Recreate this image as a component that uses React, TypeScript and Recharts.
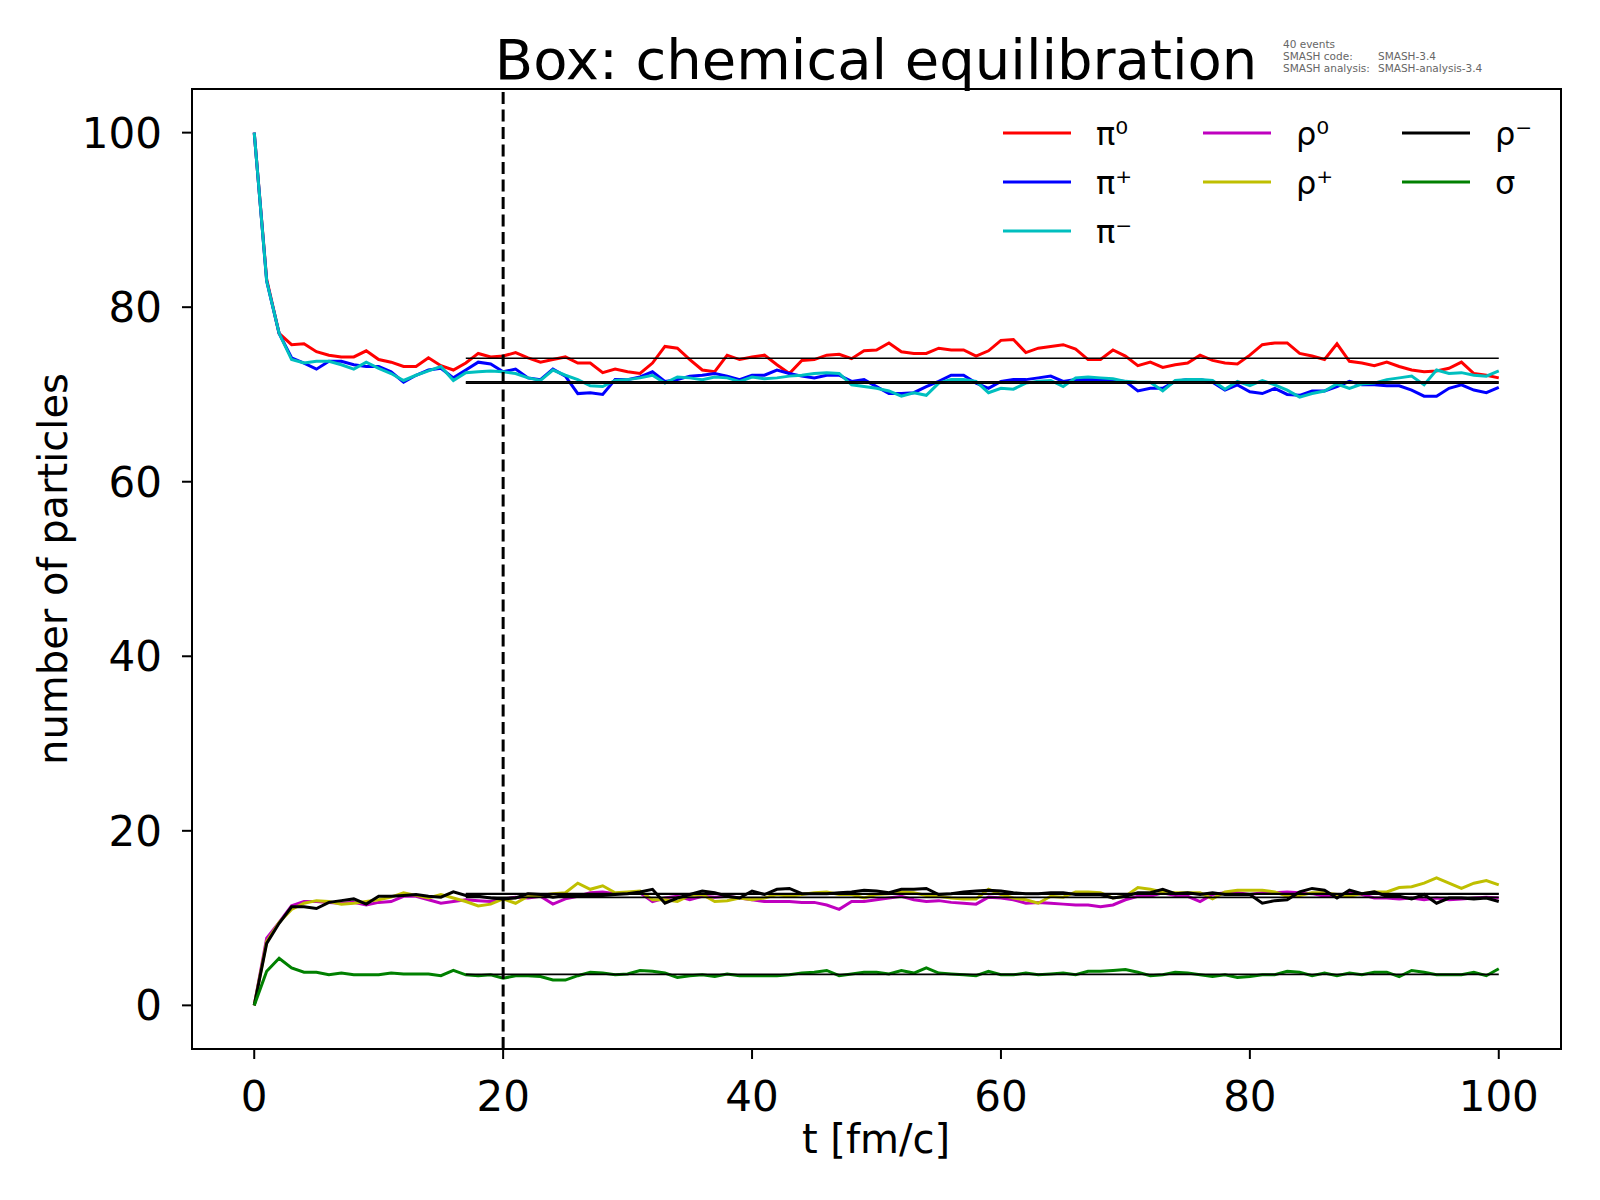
import React from "react";
import { LineChart, Line, XAxis, YAxis, ReferenceLine, ReferenceArea, Legend } from "recharts";

const times = [0,1,2,3,4,5,6,7,8,9,10,11,12,13,14,15,16,17,18,19,20,21,22,23,24,25,26,27,28,29,30,31,32,33,34,35,36,37,38,39,40,41,42,43,44,45,46,47,48,49,50,51,52,53,54,55,56,57,58,59,60,61,62,63,64,65,66,67,68,69,70,71,72,73,74,75,76,77,78,79,80,81,82,83,84,85,86,87,88,89,90,91,92,93,94,95,96,97,98,99,100];

const pi0 = [100,83.2,77.0,75.7,75.8,74.9,74.5,74.3,74.3,75.0,74.0,73.7,73.2,73.2,74.2,73.3,72.8,73.6,74.7,74.3,74.4,74.8,74.2,73.7,74.0,74.3,73.6,73.6,72.5,72.9,72.6,72.4,73.6,75.5,75.3,74.0,72.8,72.6,74.5,74.0,74.3,74.5,73.4,72.4,73.9,74.0,74.5,74.6,74.1,75.0,75.1,75.9,74.9,74.7,74.7,75.3,75.1,75.1,74.4,75.0,76.2,76.3,74.8,75.3,75.5,75.7,75.2,74.0,74.0,75.1,74.4,73.3,73.7,73.1,73.4,73.6,74.5,73.9,73.6,73.5,74.5,75.7,75.9,75.9,74.7,74.4,74.0,75.8,73.8,73.6,73.3,73.7,73.2,72.8,72.6,72.7,73.0,73.7,72.4,72.2,71.9];

const piPlus = [100,83.0,77.0,74.2,73.6,72.9,73.8,73.8,73.4,73.2,73.2,72.6,71.4,72.2,72.8,73.0,71.9,72.8,73.7,73.5,72.6,72.9,71.9,71.7,72.9,72.1,70.1,70.2,70.0,71.7,71.7,72.0,72.6,71.5,71.7,72.1,72.2,72.4,72.1,71.7,72.2,72.2,72.8,72.4,72.1,71.9,72.2,72.2,71.5,71.7,70.9,70.1,70.1,70.2,70.9,71.5,72.2,72.2,71.3,70.7,71.5,71.7,71.7,71.9,72.1,71.5,71.7,71.7,71.7,71.6,71.5,70.4,70.7,70.7,71.5,71.7,71.7,71.4,70.5,71.1,70.3,70.1,70.7,70.0,69.9,70.4,70.4,70.9,71.5,71.1,71.1,71.0,71.0,70.5,69.8,69.8,70.7,71.1,70.5,70.2,70.8];

const piMinus = [100,83.0,77.0,74.0,73.6,73.8,73.8,73.4,72.9,73.7,73.0,72.4,71.6,72.2,72.7,73.2,71.6,72.5,72.6,72.7,72.6,72.4,71.9,71.6,72.8,72.2,71.7,71.0,70.9,71.6,71.7,71.9,72.2,71.3,72.0,71.9,71.7,72.0,71.9,71.5,72.0,71.8,71.9,72.1,72.2,72.4,72.5,72.4,71.1,70.9,70.7,70.4,69.8,70.2,69.9,71.3,71.7,71.7,71.5,70.2,70.7,70.6,71.3,71.5,71.6,70.9,71.9,72.0,71.9,71.8,71.5,71.4,71.4,70.4,71.6,71.7,71.7,71.6,70.6,71.5,71.0,71.6,71.1,70.5,69.7,70.1,70.4,71.2,70.7,71.2,71.3,71.7,71.9,72.1,71.1,72.8,72.4,72.5,72.2,72.1,72.7];

const rho0 = [0,7.7,9.5,11.4,11.9,11.9,11.8,11.7,11.8,11.5,11.8,11.9,12.5,12.5,12.1,11.7,11.9,12.1,12.0,11.9,12.2,12.4,12.3,12.5,11.6,12.2,12.5,12.9,13.0,12.8,12.9,12.9,11.9,12.3,12.5,12.1,12.5,12.4,12.5,12.3,12.1,11.9,11.9,11.9,11.8,11.8,11.5,11.0,11.9,11.9,12.1,12.3,12.5,12.1,11.9,12.0,11.8,11.7,11.6,12.4,12.3,12.1,11.7,11.8,11.7,11.6,11.5,11.5,11.3,11.5,12.1,12.5,12.5,12.9,12.6,12.5,11.9,12.7,12.9,12.9,12.7,12.9,12.9,13.0,12.9,12.8,12.5,12.5,12.9,12.7,12.3,12.3,12.2,12.3,12.1,12.3,12.1,12.2,12.3,12.4,12.3];

const rhoPlus = [0,7.3,9.5,11.0,11.7,12.0,11.9,11.6,11.7,11.9,12.1,12.4,12.9,12.6,12.3,12.7,12.3,11.9,11.4,11.6,12.2,11.7,12.5,12.6,12.8,12.9,14.0,13.3,13.7,12.9,13.0,13.1,12.1,12.1,11.9,12.6,12.7,11.9,12.0,12.3,12.1,12.3,12.7,12.5,12.7,12.9,13.0,12.7,12.7,12.3,12.7,12.8,13.0,12.9,12.6,12.5,12.3,12.2,12.2,13.3,12.7,12.3,12.1,11.7,12.5,12.4,13.0,13.0,12.9,12.3,12.5,13.5,13.3,13.0,12.9,12.9,12.9,12.2,13.0,13.2,13.2,13.2,13.0,12.5,12.6,12.9,12.9,12.7,12.5,12.8,13.0,13.0,13.5,13.6,14.0,14.6,14.0,13.4,14.0,14.3,13.8];

const rhoMinus = [0,7.1,9.4,11.3,11.3,11.1,11.8,12.0,12.2,11.6,12.5,12.5,12.6,12.7,12.5,12.4,13.0,12.6,12.5,12.3,12.2,12.3,12.8,12.7,12.4,12.6,12.5,12.5,12.6,12.7,12.8,13.0,13.3,11.7,12.3,12.7,13.1,12.9,12.5,12.3,13.1,12.7,13.3,13.4,12.8,12.8,12.8,12.9,13.0,13.2,13.1,12.9,13.3,13.3,13.4,12.7,12.8,13.0,13.1,13.2,13.1,12.9,12.8,12.8,12.9,12.9,12.7,12.7,12.7,12.3,12.5,12.9,12.9,13.3,12.8,12.9,12.7,12.9,12.7,12.7,12.7,11.7,12.0,12.1,13.0,13.4,13.2,12.3,13.2,12.8,13.0,12.5,12.5,12.2,12.7,11.7,12.3,12.3,12.2,12.3,11.9];

const sigma = [0,3.9,5.4,4.3,3.8,3.8,3.5,3.7,3.5,3.5,3.5,3.7,3.6,3.6,3.6,3.4,4.0,3.5,3.4,3.5,3.1,3.4,3.4,3.3,2.9,2.9,3.4,3.8,3.7,3.5,3.6,4.0,3.9,3.7,3.2,3.4,3.5,3.3,3.6,3.4,3.4,3.4,3.4,3.5,3.7,3.8,4.0,3.4,3.6,3.8,3.8,3.6,4.0,3.7,4.3,3.7,3.6,3.5,3.4,3.9,3.5,3.5,3.7,3.5,3.6,3.7,3.5,3.9,3.9,4.0,4.1,3.8,3.4,3.5,3.8,3.7,3.5,3.3,3.5,3.2,3.3,3.5,3.5,3.9,3.8,3.4,3.7,3.4,3.7,3.5,3.8,3.8,3.3,4.0,3.8,3.5,3.5,3.5,3.8,3.4,4.2];

const seriesKeys = ["pi0", "piPlus", "piMinus", "rho0", "rhoPlus", "rhoMinus", "sigma"];
const seriesLabels = ["π⁰", "π⁺", "π⁻", "ρ⁰", "ρ⁺", "ρ⁻", "σ"];
const seriesColors = ["#ff0000", "#0000ff", "#00bfbf", "#bf00bf", "#bfbf00", "#000000", "#008000"];
// equilibrium averages (from t = 17 to t = 100)
const meanValues = [74.15, 71.3, 71.45, 12.38, 12.75, 12.8, 3.55];
const meanStart = 17;
const meanEnd = 100;
const markerTime = 20;

const xTicks = [0, 20, 40, 60, 80, 100];
const yTicks = [0, 20, 40, 60, 80, 100];

const titleText = "Box: chemical equilibration";
const xLabel = "t [fm/c]";
const yLabel = "number of particles";
const infoLines = [
  ["40 events", ""],
  ["SMASH code:", "SMASH-3.4"],
  ["SMASH analysis:", "SMASH-analysis-3.4"],
];

const allSeries = [pi0, piPlus, piMinus, rho0, rhoPlus, rhoMinus, sigma];
const data = times.map((t, i) => {
  const row: Record<string, number> = { t };
  seriesKeys.forEach((k, j) => {
    row[k] = allSeries[j][i];
  });
  return row;
});

const FONT = "'DejaVu Sans', sans-serif";

const LegendBox = () => {
  const colX = [13, 213, 412];
  const rowY = [23, 72, 121];
  const pos = [
    [0, 0], [0, 1], [0, 2],
    [1, 0], [1, 1],
    [2, 0], [2, 1],
  ];
  return (
    <svg width={560} height={150} style={{ overflow: "visible" }}>
      {seriesKeys.map((k, i) => {
        const [c, r] = pos[i];
        const x = colX[c];
        const y = rowY[r];
        return (
          <g key={k}>
            <line x1={x} x2={x + 68} y1={y} y2={y} stroke={seriesColors[i]} strokeWidth={3} />
            <text x={x + 93} y={y + 12} fontFamily={FONT} fontSize={32} fill="#000">
              {seriesLabels[i]}
            </text>
          </g>
        );
      })}
    </svg>
  );
};

export default function App() {
  return (
    <div style={{ position: "absolute", left: 0, top: 0, width: 1600, height: 1200, background: "#fff" }}>
      <LineChart
        width={1600}
        height={1200}
        data={data}
        margin={{ top: 89, right: 39, left: 92, bottom: 91 }}
        style={{ fontFamily: FONT }}
      >
        <XAxis
          dataKey="t"
          type="number"
          domain={[-5, 105]}
          ticks={xTicks}
          height={60}
          tickSize={10}
          tickMargin={22}
          axisLine={{ stroke: "#000", strokeWidth: 2 }}
          tickLine={{ stroke: "#000", strokeWidth: 2 }}
          tick={{ fill: "#000", fontSize: 42, fontFamily: FONT }}
          allowDataOverflow
        />
        <YAxis
          type="number"
          domain={[-5, 105]}
          ticks={yTicks}
          width={100}
          tickSize={10}
          tickMargin={20}
          axisLine={{ stroke: "#000", strokeWidth: 2 }}
          tickLine={{ stroke: "#000", strokeWidth: 2 }}
          tick={{ fill: "#000", fontSize: 42, fontFamily: FONT }}
          allowDataOverflow
        />
        <ReferenceArea x1={-5} x2={105} y1={-5} y2={105} fill="none" stroke="#000" strokeWidth={2} fillOpacity={0} />
        {seriesKeys.map((k, i) => (
          <Line
            key={k}
            dataKey={k}
            name={seriesLabels[i]}
            stroke={seriesColors[i]}
            strokeWidth={3}
            dot={false}
            activeDot={false}
            isAnimationActive={false}
            type="linear"
          />
        ))}
        {meanValues.map((v, i) => (
          <ReferenceLine
            key={"m" + i}
            segment={[{ x: meanStart, y: v }, { x: meanEnd, y: v }]}
            stroke="#000"
            strokeWidth={1.7}
          />
        ))}
        <ReferenceLine x={markerTime} stroke="#000" strokeWidth={3} strokeDasharray="12 5.5" />
        <Legend
          layout="horizontal"
          verticalAlign="middle"
          align="center"
          wrapperStyle={{ left: 990, top: 110, width: 560, height: 150 }}
          content={() => <LegendBox />}
        />
      </LineChart>
      <svg
        width={1600}
        height={1200}
        style={{ position: "absolute", left: 0, top: 0, pointerEvents: "none" }}
      >
        <text x={876} y={79} textAnchor="middle" fontFamily={FONT} fontSize={56} fill="#000">
          {titleText}
        </text>
        {infoLines.map((ln, i) => (
          <g key={i}>
            <text x={1283} y={48 + i * 11.8} fontFamily={FONT} fontSize={10.5} fill="#666">
              {ln[0]}
            </text>
            {ln[1] ? (
              <text x={1378} y={48 + i * 11.8} fontFamily={FONT} fontSize={10.5} fill="#666">
                {ln[1]}
              </text>
            ) : null}
          </g>
        ))}
        <text x={876} y={1153} textAnchor="middle" fontFamily={FONT} fontSize={40} fill="#000">
          {xLabel}
        </text>
        <text
          x={53}
          y={569}
          textAnchor="middle"
          dominantBaseline="central"
          transform="rotate(-90 53 569)"
          fontFamily={FONT}
          fontSize={40}
          fill="#000"
        >
          {yLabel}
        </text>
      </svg>
    </div>
  );
}
